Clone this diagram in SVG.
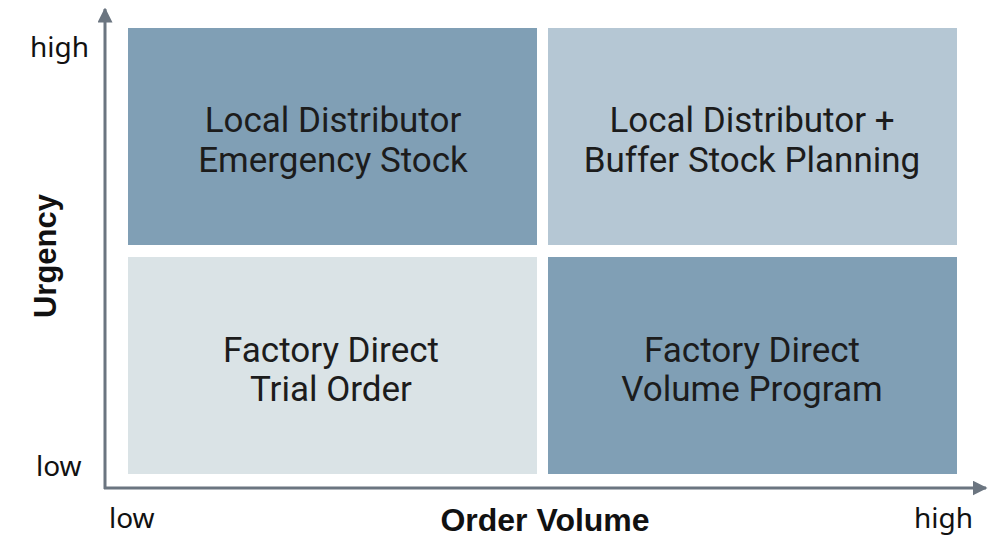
<svg xmlns="http://www.w3.org/2000/svg" width="1000" height="545" viewBox="0 0 1000 545">
<defs>
<style>
.q{font-family:Roboto,"Liberation Sans",sans-serif;font-size:35px;fill:#1c1c1c;text-anchor:middle}
.t{font-family:"Noto Sans","Liberation Sans",sans-serif;font-size:28px;fill:#111}
.b{font-family:"Liberation Sans",Arial,sans-serif;font-weight:bold;fill:#111;text-anchor:middle}
.ax{stroke:#6b7580;stroke-width:3;fill:none}
</style>
<marker id="ah" viewBox="0 0 10 10" refX="9" refY="5" markerWidth="15" markerHeight="15" orient="auto" markerUnits="userSpaceOnUse">
<path d="M0,0 L10,5 L0,10 Z" fill="#6b7580"/>
</marker>
</defs>
<rect width="1000" height="545" fill="#fff"/>
<g id="q-tl">
<rect x="128" y="28" width="409" height="217" fill="#809fb5"/>
<text class="q" x="333" y="132">Local Distributor</text>
<text class="q" x="333" y="172">Emergency Stock</text>
</g>
<g id="q-tr">
<rect x="548" y="28" width="409" height="217" fill="#b5c7d4"/>
<text class="q" x="752" y="132">Local Distributor +</text>
<text class="q" x="752" y="172">Buffer Stock Planning</text>
</g>
<g id="q-bl">
<rect x="128" y="257" width="409" height="217" fill="#dae3e6"/>
<text class="q" x="331" y="362">Factory Direct</text>
<text class="q" x="331" y="401">Trial Order</text>
</g>
<g id="q-br">
<rect x="548" y="257" width="409" height="217" fill="#809fb5"/>
<text class="q" x="752" y="362">Factory Direct</text>
<text class="q" x="752" y="401">Volume Program</text>
</g>
<g id="axes">
<path class="ax" d="M105,489 L105,9" marker-end="url(#ah)"/>
<path class="ax" d="M104,488 L986,488" marker-end="url(#ah)"/>
</g>
<g id="labels">
<text class="t" x="30" y="57">high</text>
<text class="t" x="36" y="476">low</text>
<text class="t" x="109" y="528">low</text>
<text class="t" x="914" y="528">high</text>
<text class="b" x="545" y="531" font-size="32">Order Volume</text>
<text class="b" transform="translate(56,256) rotate(-90)" font-size="31">Urgency</text>
</g>
</svg>
